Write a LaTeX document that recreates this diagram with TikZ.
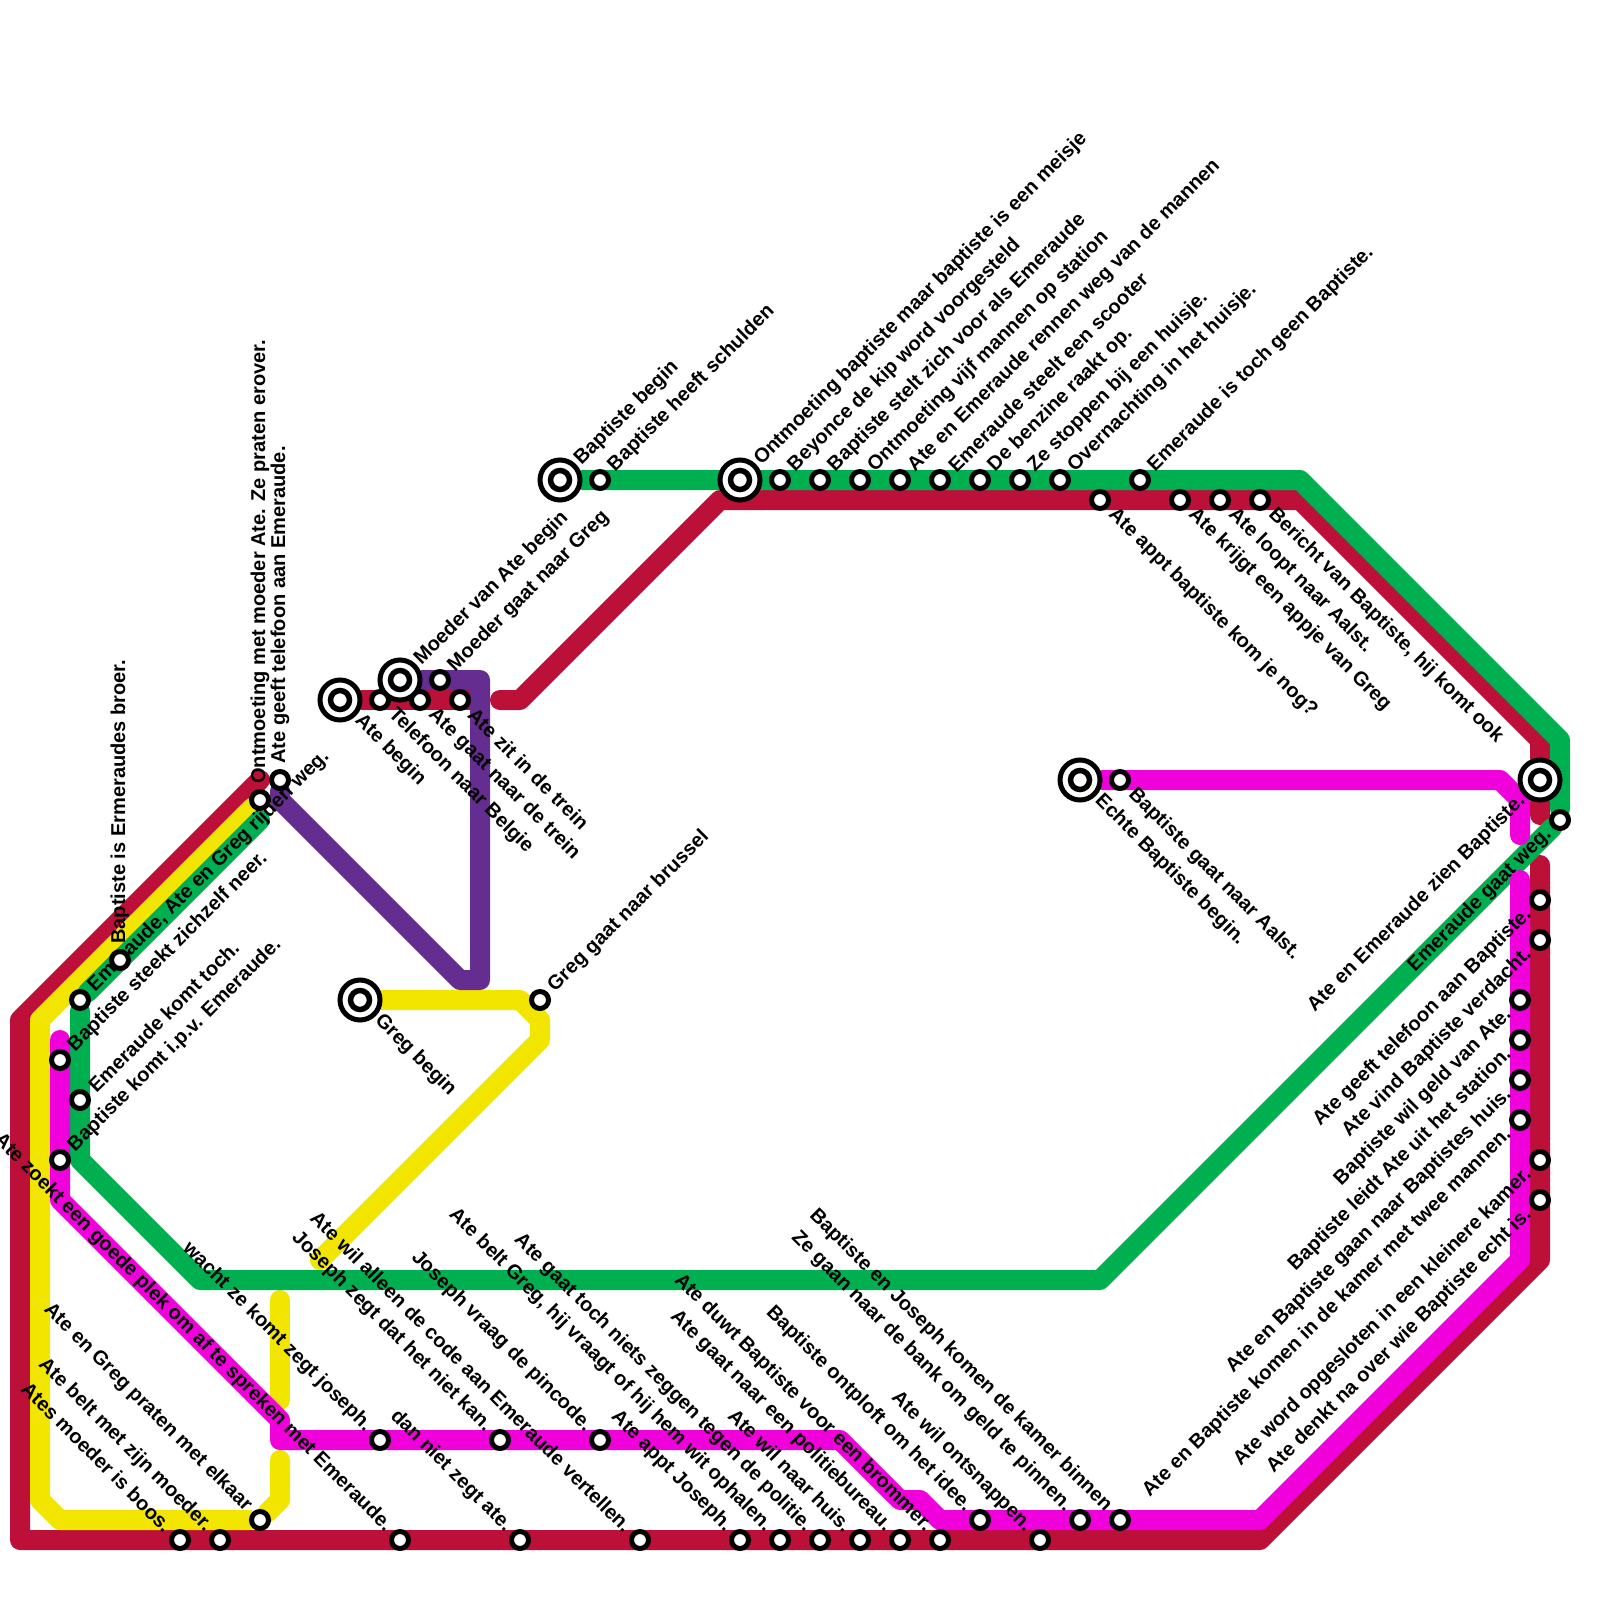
\documentclass[tikz,border=0pt]{standalone}
\usepackage{fontspec}
\setmainfont{Liberation Sans}
\usetikzlibrary{calc,backgrounds}
\definecolor{rood}{HTML}{BD1038}
\definecolor{groen}{HTML}{00B050}
\definecolor{geel}{HTML}{F2E500}
\definecolor{roze}{HTML}{F000DB}
\definecolor{paars}{HTML}{662D91}
\begin{document}
\begin{tikzpicture}[x=0.2mm,y=-0.2mm,
    track/.style={line width=4mm,line join=round,line cap=round},
    halte/.style={circle,draw=black,fill=white,line width=1mm,minimum size=3.4mm,inner sep=0pt},
    eindhalte/.style={halte,minimum size=8mm,path picture={\draw[line width=1.1mm] (path picture bounding box.center) circle (1.9mm);}},
    tekst/.style={font=\bfseries\fontsize{11.4}{13}\selectfont,inner sep=0pt}]
    \useasboundingbox (0,0) rectangle (1600,1600);
    % groen
    \node[eindhalte] (gA) at (560,480) {};
    \node[tekst,rotate=45,anchor=west] (gAt) at ($(gA)+(45:5mm)$) {Baptiste begin};
    \node[eindhalte] (gB) at (740,480) {};
    \node[tekst,rotate=45,anchor=west] (gBt) at ($(gB)+(45:5mm)$) {Ontmoeting baptiste maar baptiste is een meisje};
    \foreach \n/\x/\t in {1/600/Baptiste heeft schulden,2/780/Beyonce de kip word voorgesteld,
        3/820/Baptiste stelt zich voor als Emeraude,4/860/Ontmoeting vijf mannen op station,
        5/900/Ate en Emeraude rennen weg van de mannen,6/940/Emeraude steelt een scooter,
        7/980/De benzine raakt op.,8/1020/Ze stoppen bij een huisje.,
        9/1060/Overnachting in het huisje.,10/1140/Emeraude is toch geen Baptiste.}
      {\node[halte] (g\n) at (\x,480) {};
       \node[tekst,rotate=45,anchor=west] (gt\n) at ($(g\n)+(45:3.2mm)$) {\t};}
    \foreach \n/\x/\y/\t in {11/80/1000/{Emeraude, Ate en Greg rijden weg.},12/80/1100/Emeraude komt toch.}
      {\node[halte] (g\n) at (\x,\y) {};
       \node[tekst,rotate=45,anchor=west] (gt\n) at ($(g\n)+(45:3.2mm)$) {\t};}
    \node[halte] (g13) at (1560,820) {};
    \node[tekst,rotate=45,anchor=east] (gt13) at ($(g13)+(225:3.2mm)$) {Emeraude gaat weg.};
    \node[halte] (g14) at (120,960) {};
    \node[tekst,rotate=90,anchor=west] (gt14) at ($(g14)+(90:3.2mm)$) {Baptiste is Ermeraudes broer.};
    % rood
    \node[eindhalte] (rA) at (340,700) {};
    \node[tekst,rotate=-45,anchor=west] (rAt) at ($(rA)+(-45:5mm)$) {Ate begin};
    \foreach \n/\x/\y/\t in {1/380/700/Telefoon naar Belgie,2/420/700/Ate gaat naar de trein,
        3/460/700/Ate zit in de trein,4/1100/500/Ate appt baptiste kom je nog?,
        5/1180/500/Ate krijgt een appje van Greg,6/1220/500/Ate loopt naar Aalst.,
        7/1260/500/{Bericht van Baptiste, hij komt ook}}
      {\node[halte] (r\n) at (\x,\y) {};
       \node[tekst,rotate=-45,anchor=west] (rt\n) at ($(r\n)+(-45:3.2mm)$) {\t};}
    \node[eindhalte] (rB) at (1540,780) {};
    \node[tekst,rotate=45,anchor=east] (rBt) at ($(rB)+(225:5mm)$) {Ate en Emeraude zien Baptiste.};
    \foreach \n/\y/\t in {8/900/Ate geeft telefoon aan Baptiste.,9/940/Ate vind Baptiste verdacht.,
        10/1160/Ate word opgesloten in een kleinere kamer.,11/1200/Ate denkt na over wie Baptiste echt is.}
      {\node[halte] (r\n) at (1540,\y) {};
       \node[tekst,rotate=45,anchor=east] (rt\n) at ($(r\n)+(225:3.2mm)$) {\t};}
    \foreach \n/\x/\t in {1/180/Ates moeder is boos.,2/220/Ate belt met zijn moeder.,
        3/400/Ate zoekt een goede plek om af te spreken met Emeraude.,4/520/dan niet zegt ate.,
        5/640/Ate wil alleen de code aan Emeraude vertellen.,6/740/Ate appt Joseph.,
        7/780/{Ate belt Greg, hij vraagt of hij hem wit ophalen.},8/820/Ate gaat toch niets zeggen tegen de politie.,
        9/860/Ate wil naar huis.,10/900/Ate gaat naar een politiebureau.,
        11/940/Ate duwt Baptiste voor een brommer.,12/1040/Ate wil ontsnappen.}
      {\node[halte] (b\n) at (\x,1540) {};
       \node[tekst,rotate=-45,anchor=east] (bt\n) at ($(b\n)+(135:3.2mm)$) {\t};}
    % roze
    \node[eindhalte] (mA) at (1080,780) {};
    \node[tekst,rotate=-45,anchor=west] (mAt) at ($(mA)+(-45:5mm)$) {Echte Baptiste begin.};
    \node[halte] (m1) at (1120,780) {};
    \node[tekst,rotate=-45,anchor=west] (mt1) at ($(m1)+(-45:3.2mm)$) {Baptiste gaat naar Aalst.};
    \foreach \n/\y/\t in {2/1000/Baptiste wil geld van Ate.,3/1040/Baptiste leidt Ate uit het station.,
        4/1080/Ate en Baptiste gaan naar Baptistes huis.,5/1120/Ate en Baptiste komen in de kamer met twee mannen.}
      {\node[halte] (m\n) at (1520,\y) {};
       \node[tekst,rotate=45,anchor=east] (mt\n) at ($(m\n)+(225:3.2mm)$) {\t};}
    \foreach \n/\x/\y/\t in {6/980/1520/Baptiste ontploft om het idee.,7/1080/1520/Ze gaan naar de bank om geld te pinnen.,
        8/1120/1520/Baptiste en Joseph komen de kamer binnen,9/380/1440/wacht ze komt zegt joseph.,
        10/500/1440/Joseph zegt dat het niet kan.,11/600/1440/Joseph vraag de pincode.}
      {\node[halte] (m\n) at (\x,\y) {};
       \node[tekst,rotate=-45,anchor=east] (mt\n) at ($(m\n)+(135:3.2mm)$) {\t};}
    \foreach \n/\y/\t in {12/1060/Baptiste steekt zichzelf neer.,13/1160/Baptiste komt i.p.v. Emeraude.}
      {\node[halte] (m\n) at (60,\y) {};
       \node[tekst,rotate=45,anchor=west] (mt\n) at ($(m\n)+(45:3.2mm)$) {\t};}
    % geel
    \node[eindhalte] (yA) at (360,1000) {};
    \node[tekst,rotate=-45,anchor=west] (yAt) at ($(yA)+(-45:5mm)$) {Greg begin};
    \node[halte] (y1) at (540,1000) {};
    \node[tekst,rotate=45,anchor=west] (yt1) at ($(y1)+(45:3.2mm)$) {Greg gaat naar brussel};
    \node[halte] (y2) at (260,1520) {};
    \node[tekst,rotate=-45,anchor=east] (yt2) at ($(y2)+(135:3.2mm)$) {Ate en Greg praten met elkaar};
    \node[halte] (y3) at (260,800) {};
    \node[tekst,rotate=90,anchor=west] (yt3) at ($(y3)+(90:3.2mm)$) {Ontmoeting met moeder Ate. Ze praten erover.};
    % paars
    \node[eindhalte] (pA) at (400,680) {};
    \node[tekst,rotate=45,anchor=west] (pAt) at ($(pA)+(45:5mm)$) {Moeder van Ate begin};
    \node[halte] (p1) at (440,680) {};
    \node[tekst,rotate=45,anchor=west] (pt1) at ($(p1)+(45:3.2mm)$) {Moeder gaat naar Greg};
    \node[halte] (p2) at (280,780) {};
    \node[tekst,rotate=90,anchor=west] (pt2) at ($(p2)+(90:3.2mm)$) {Ate geeft telefoon aan Emeraude.};
    % lijnen
    \begin{scope}[on background layer]
    \fill[white] (0,0) rectangle (1600,1600);
    \coordinate (rE) at (260,780);
    \coordinate (gE) at (260,820);
    \draw[track,rood] (rE) -- (20,1020) -- (20,1540) -- (1260,1540) -- (1540,1260) -- (1540,865);
    \draw[track,rood] (1540,815) -- (rB) -- (1540,740) -- (1300,500) -- (720,500) -- (520,700) -- (500,700);
    \draw[track,rood] (rA) -- (475,700);
    \draw[track,geel] (yA) -- (520,1000) -- (540,1020) -- (540,1040) -- (320,1260);
    \draw[track,geel] (280,1300) -- (280,1400);
    \draw[track,geel] (280,1460) -- (280,1500) -- (y2) -- (60,1520) -- (40,1500) -- (40,1020) -- (y3);
    \draw[track,groen] (gA) -- (1300,480) -- (1560,740) -- (g13) -- (1100,1280) -- (200,1280) -- (80,1160) -- (g11) -- (gE);
    \draw[track,roze] (60,1040) -- (60,1200) -- (280,1420) -- (280,1440) -- (840,1440) -- (900,1500) -- (920,1500)
        -- (940,1520) -- (1260,1520) -- (1520,1260) -- (1520,880);
    \draw[track,roze] (mA) -- (1500,780) -- (1520,800) -- (1520,835);
    \draw[track,paars] (pA) -- (480,680) -- (480,980) -- (460,980) -- (280,800) -- (p2);
    \end{scope}
\end{tikzpicture}
\end{document}
